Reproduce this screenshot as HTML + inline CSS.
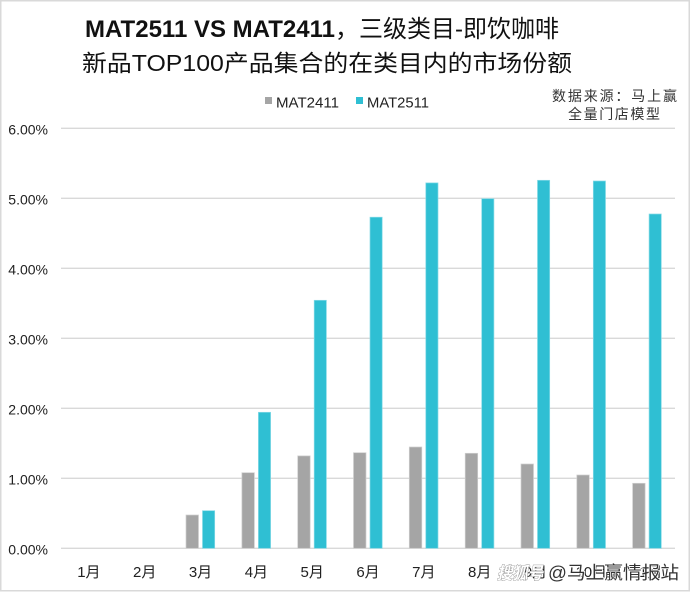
<!DOCTYPE html>
<html><head><meta charset="utf-8"><style>
html,body{margin:0;padding:0;background:#fff;}
svg{display:block;}
text{font-family:"Liberation Sans","Noto Sans CJK SC",sans-serif;}
</style></head><body>
<svg width="690" height="592" viewBox="0 0 690 592" xmlns="http://www.w3.org/2000/svg">
<rect x="0.75" y="0.75" width="688.5" height="590" fill="#fff" stroke="#d9d9d9" stroke-width="1.5"/>
<!-- title -->
<text x="85" y="37" font-size="24" fill="#111" textLength="474" lengthAdjust="spacingAndGlyphs"><tspan font-weight="bold">MAT2511 VS MAT2411</tspan>，三级类目-即饮咖啡</text>
<text x="82" y="71" font-size="23" fill="#111" textLength="490" lengthAdjust="spacingAndGlyphs">新品TOP100产品集合的在类目内的市场份额</text>
<!-- legend -->
<rect x="265" y="97" width="7" height="7" fill="#a5a5a5"/>
<text x="276" y="107.5" font-size="15" fill="#222" textLength="63" lengthAdjust="spacingAndGlyphs">MAT2411</text>
<rect x="356" y="97" width="7" height="7" fill="#2fbfd3"/>
<text x="367" y="107.5" font-size="15" fill="#222" textLength="62" lengthAdjust="spacingAndGlyphs">MAT2511</text>
<!-- source -->
<text x="552" y="101" font-size="14" fill="#333" textLength="125" lengthAdjust="spacing">数据来源：马上赢</text>
<text x="568" y="119" font-size="14" fill="#333" textLength="92" lengthAdjust="spacing">全量门店模型</text>
<!-- grid -->
<g stroke="#d9d9d9" stroke-width="1.3">
<line x1="61" x2="675" y1="128.3" y2="128.3"/>
<line x1="61" x2="675" y1="198.3" y2="198.3"/>
<line x1="61" x2="675" y1="268.3" y2="268.3"/>
<line x1="61" x2="675" y1="338.3" y2="338.3"/>
<line x1="61" x2="675" y1="408.3" y2="408.3"/>
<line x1="61" x2="675" y1="478.3" y2="478.3"/>
<line x1="61" x2="675" y1="548.3" y2="548.3"/>
</g>
<!-- y labels -->
<g font-size="14" fill="#222" text-anchor="end">
<text x="48" y="134.5">6.00%</text>
<text x="48" y="204.5">5.00%</text>
<text x="48" y="274.5">4.00%</text>
<text x="48" y="344.5">3.00%</text>
<text x="48" y="414.5">2.00%</text>
<text x="48" y="484.5">1.00%</text>
<text x="48" y="554.5">0.00%</text>
</g>
<!-- gray bars -->
<g fill="#a5a5a5" stroke="#cfcfcf" stroke-width="0.7">
<rect x="186.0" y="515.0" width="12.5" height="33.3"/>
<rect x="241.9" y="472.7" width="12.5" height="75.6"/>
<rect x="297.7" y="455.9" width="12.5" height="92.4"/>
<rect x="353.5" y="452.7" width="12.5" height="95.6"/>
<rect x="409.3" y="447.0" width="12.5" height="101.3"/>
<rect x="465.2" y="453.3" width="12.5" height="95.0"/>
<rect x="521.0" y="464.0" width="12.5" height="84.3"/>
<rect x="576.8" y="475.0" width="12.5" height="73.3"/>
<rect x="632.6" y="483.3" width="12.5" height="65.0"/>
</g>
<!-- cyan bars -->
<g fill="#2fbfd3" stroke="#86dae6" stroke-width="0.7">
<rect x="202.5" y="510.7" width="12.2" height="37.6"/>
<rect x="258.4" y="412.3" width="12.2" height="136.0"/>
<rect x="314.2" y="300.3" width="12.2" height="248.0"/>
<rect x="370.0" y="217.2" width="12.2" height="331.1"/>
<rect x="425.8" y="182.9" width="12.2" height="365.4"/>
<rect x="481.7" y="198.7" width="12.2" height="349.6"/>
<rect x="537.5" y="180.3" width="12.2" height="368.0"/>
<rect x="593.3" y="181.0" width="12.2" height="367.3"/>
<rect x="649.1" y="214.0" width="12.2" height="334.3"/>
</g>
<!-- x labels -->
<g font-size="15" fill="#222" text-anchor="middle">
<text x="88.9" y="577">1月</text>
<text x="144.7" y="577">2月</text>
<text x="200.5" y="577">3月</text>
<text x="256.4" y="577">4月</text>
<text x="312.2" y="577">5月</text>
<text x="368.0" y="577">6月</text>
<text x="423.8" y="577">7月</text>
<text x="479.7" y="577">8月</text>
<text x="535.5" y="577">9月</text>
<text x="591.3" y="577">10月</text>
<text x="647.1" y="577">11月</text>
</g>
<!-- watermark -->
<text x="497" y="579" font-size="17" font-style="italic" font-weight="bold" fill="#fff" stroke="#888" stroke-width="0.8" paint-order="stroke" textLength="46" lengthAdjust="spacingAndGlyphs">搜狐号</text>
<text x="548" y="579" font-size="18" fill="#333" stroke="#fff" stroke-width="1.5" paint-order="stroke" textLength="131" lengthAdjust="spacingAndGlyphs">@马上赢情报站</text>
</svg>
</body></html>
